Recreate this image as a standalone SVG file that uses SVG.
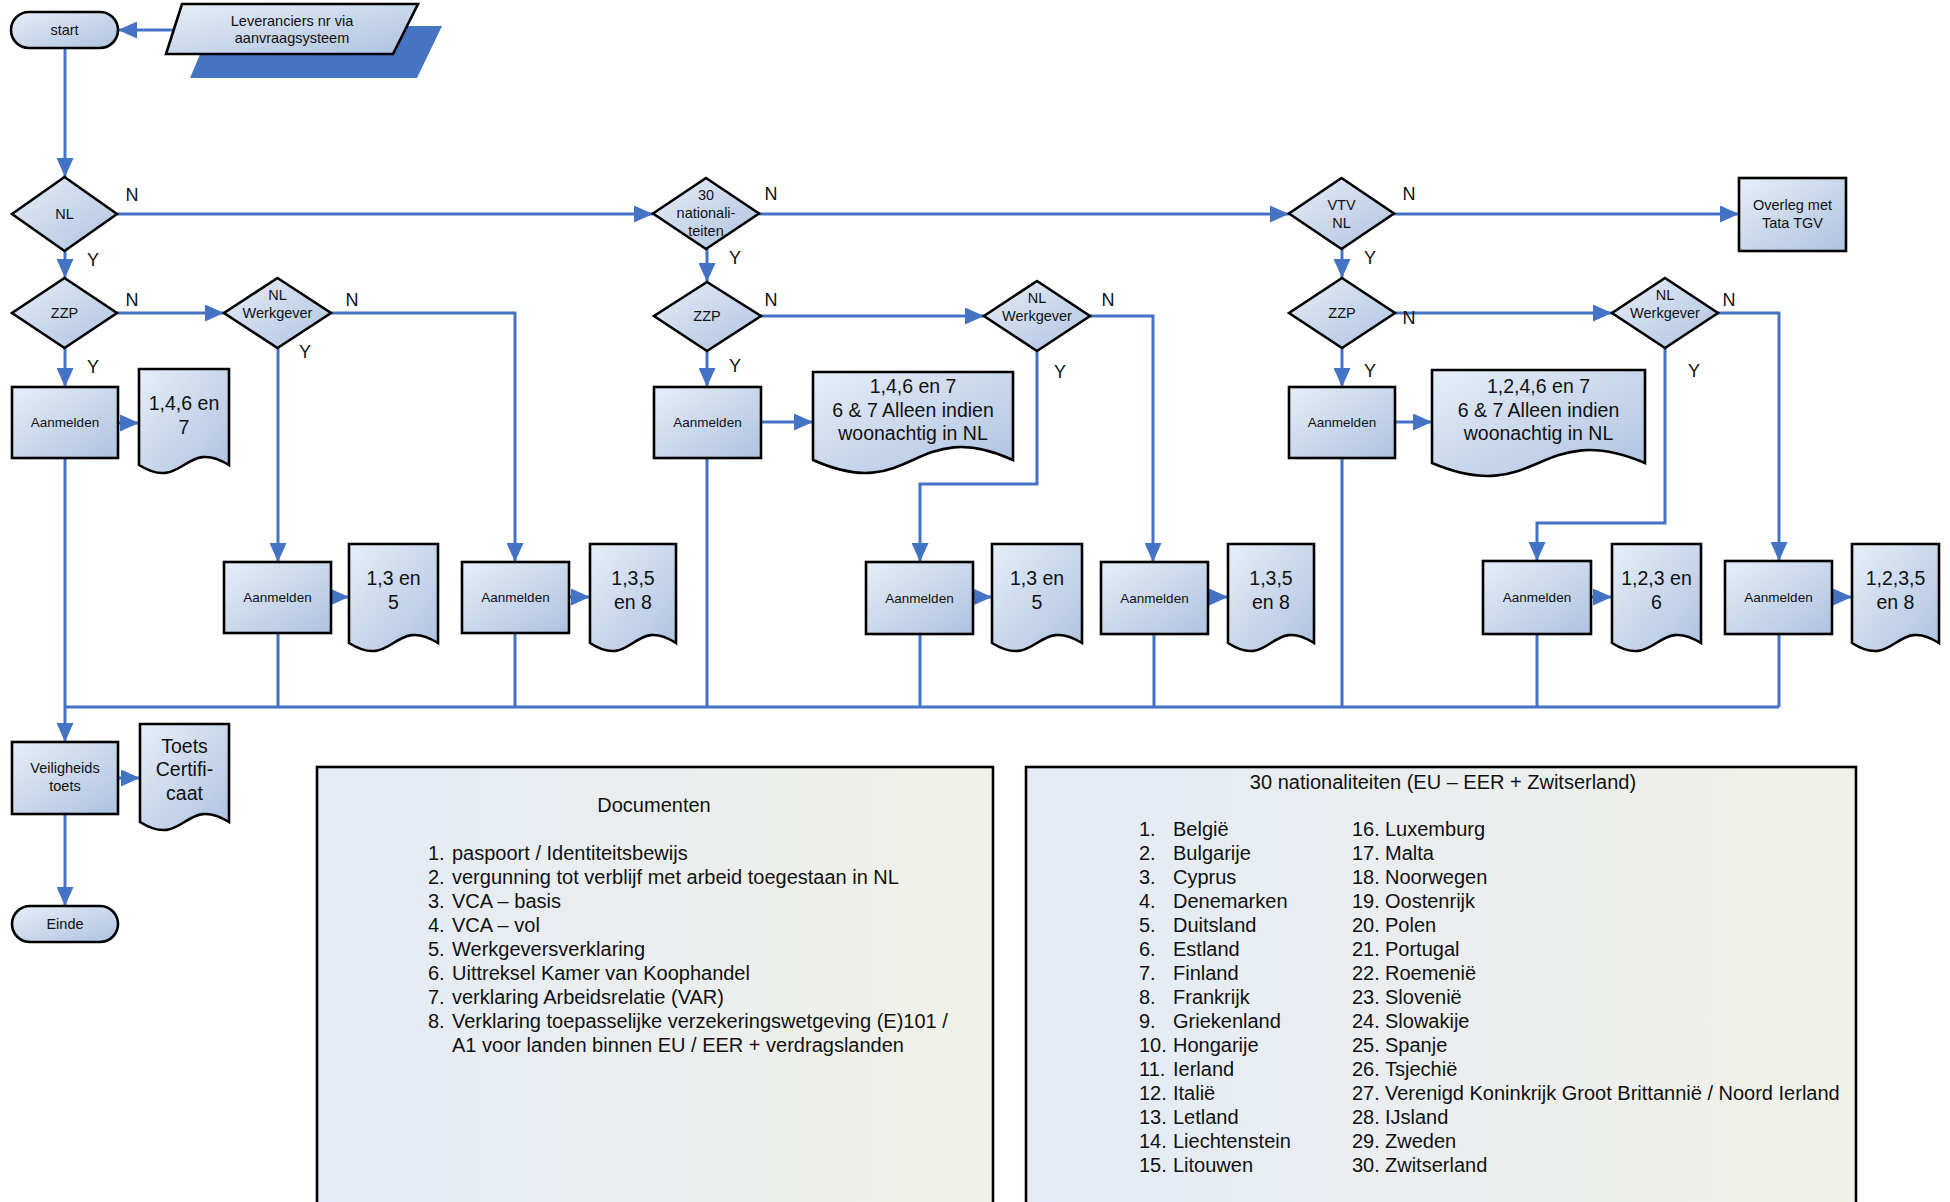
<svg xmlns="http://www.w3.org/2000/svg" width="1950" height="1202" viewBox="0 0 1950 1202">
<style>
text{font-family:"Liberation Sans",Arial,sans-serif;fill:#111;dominant-baseline:central}
.n{fill:url(#gn);stroke:#000;stroke-width:2.6}
.t{font-size:14.5px;text-anchor:middle}
.ta{font-size:13.5px;text-anchor:middle}
.td{font-size:19.5px;text-anchor:middle}
.yn{font-size:18px}
.c{fill:none;stroke:#4472c4;stroke-width:3}
.ar{marker-end:url(#ah)}
.box{fill:url(#gb);stroke:#000;stroke-width:2.6}
.l{font-size:20px}
</style>
<defs>
<linearGradient id="gn" x1="0" y1="0" x2="1" y2="1">
<stop offset="0" stop-color="#e7eef8"/><stop offset="1" stop-color="#adc2e0"/>
</linearGradient>
<linearGradient id="gb" x1="0" y1="0" x2="1" y2="0">
<stop offset="0" stop-color="#e4ebf6"/><stop offset="1" stop-color="#f1f1e8"/>
</linearGradient>
<marker id="ah" markerUnits="userSpaceOnUse" markerWidth="20" markerHeight="17" refX="19" refY="8.5" orient="auto">
<path d="M0,0 L19,8.5 L0,17 z" fill="#4472c4"/>
</marker>
</defs>

<g id="connectors">
<path class="c ar" d="M174,30 H118"/>
<path class="c ar" d="M65,48 V177"/>
<path class="c ar" d="M65,251 V278"/>
<path class="c ar" d="M65,348 V387"/>
<path class="c ar" d="M118,423 H139"/>
<path class="c ar" d="M117,214 H653"/>
<path class="c ar" d="M117,313 H224"/>
<path class="c ar" d="M278,348 V562"/>
<path class="c ar" d="M331,313 H515 V562"/>
<path class="c ar" d="M331,597 H349"/>
<path class="c ar" d="M569,597 H590"/>
<path class="c ar" d="M707,249 V282"/>
<path class="c ar" d="M707,351 V387"/>
<path class="c ar" d="M761,422 H813"/>
<path class="c ar" d="M761,316 H984"/>
<path class="c ar" d="M1037,351 V484 H920 V562"/>
<path class="c ar" d="M1090,316 H1153 V562"/>
<path class="c ar" d="M973,597 H992"/>
<path class="c ar" d="M1208,597 H1228"/>
<path class="c ar" d="M759,214 H1289"/>
<path class="c ar" d="M1394,214 H1739"/>
<path class="c ar" d="M1342,249 V278"/>
<path class="c ar" d="M1342,348 V387"/>
<path class="c ar" d="M1395,422 H1432"/>
<path class="c ar" d="M1395,313 H1612"/>
<path class="c ar" d="M1665,348 V523 H1537 V561"/>
<path class="c ar" d="M1718,313 H1779 V561"/>
<path class="c ar" d="M1591,597 H1612"/>
<path class="c ar" d="M1832,597 H1852"/>
<path class="c ar" d="M65,458 V742"/>
<path class="c" d="M65,707 H1779"/>
<path class="c" d="M278,633 V707 M515,633 V707 M707,458 V707 M920,634 V707 M1154,634 V707 M1342,458 V707 M1537,634 V707 M1779,634 V707"/>
<path class="c ar" d="M118,778 H140"/>
<path class="c ar" d="M65,814 V906"/>
</g>

<g id="labels">
<text class="yn" x="132" y="195" text-anchor="middle">N</text>
<text class="yn" x="93" y="260" text-anchor="middle">Y</text>
<text class="yn" x="132" y="300" text-anchor="middle">N</text>
<text class="yn" x="93" y="367" text-anchor="middle">Y</text>
<text class="yn" x="352" y="300" text-anchor="middle">N</text>
<text class="yn" x="305" y="352" text-anchor="middle">Y</text>
<text class="yn" x="771" y="194" text-anchor="middle">N</text>
<text class="yn" x="735" y="258" text-anchor="middle">Y</text>
<text class="yn" x="771" y="300" text-anchor="middle">N</text>
<text class="yn" x="735" y="366" text-anchor="middle">Y</text>
<text class="yn" x="1108" y="300" text-anchor="middle">N</text>
<text class="yn" x="1060" y="372" text-anchor="middle">Y</text>
<text class="yn" x="1409" y="194" text-anchor="middle">N</text>
<text class="yn" x="1370" y="258" text-anchor="middle">Y</text>
<text class="yn" x="1409" y="318" text-anchor="middle">N</text>
<text class="yn" x="1370" y="371" text-anchor="middle">Y</text>
<text class="yn" x="1729" y="300" text-anchor="middle">N</text>
<text class="yn" x="1694" y="371" text-anchor="middle">Y</text>
</g>

<g id="start"><rect class="n" x="11" y="12" width="107" height="36" rx="18"/><text class="t" x="64.5" y="30">start</text></g>
<g id="leveranciers">
<path d="M212,26 H442 L417,78 H190 Z" fill="#4674c2"/>
<path class="n" d="M182,4 H418 L393,54 H166 Z"/>
<text class="t" x="292" y="21">Leveranciers nr via</text>
<text class="t" x="292" y="38">aanvraagsysteem</text>
</g>

<g id="nl"><path class="n" d="M64.5,177 L117,214 L64.5,251 L12,214 Z"/><text class="t" x="64.5" y="214">NL</text></g>
<g id="zzp1"><path class="n" d="M64.5,278 L117,313 L64.5,348 L12,313 Z"/><text class="t" x="64.5" y="313">ZZP</text></g>
<g id="wg1"><path class="n" d="M277.5,278 L331,313 L277.5,348 L224,313 Z"/><text class="t" x="277.5" y="295">NL</text><text class="t" x="277.5" y="313">Werkgever</text></g>
<g id="a1"><rect class="n" x="12" y="387" width="106" height="71"/><text class="ta" x="65" y="422">Aanmelden</text></g>
<g id="d1"><path class="n" d="M139,369 H229 V465 C184,437 184,493 139,465 Z"/><text class="td" x="184" y="403">1,4,6 en</text><text class="td" x="184" y="427">7</text></g>
<g id="a2"><rect class="n" x="224" y="562" width="107" height="71"/><text class="ta" x="277.5" y="597.5">Aanmelden</text></g>
<g id="d2"><path class="n" d="M349,544 H438 V643 C393.5,615 393.5,671 349,643 Z"/><text class="td" x="393.5" y="578">1,3 en</text><text class="td" x="393.5" y="602">5</text></g>
<g id="a3"><rect class="n" x="462" y="562" width="107" height="71"/><text class="ta" x="515.5" y="597.5">Aanmelden</text></g>
<g id="d3"><path class="n" d="M590,544 H676 V643 C633,615 633,671 590,643 Z"/><text class="td" x="633" y="578">1,3,5</text><text class="td" x="633" y="602">en 8</text></g>

<g id="nat30"><path class="n" d="M706,178 L759,213.5 L706,249 L653,213.5 Z"/><text class="t" x="706" y="195">30</text><text class="t" x="706" y="213">nationali-</text><text class="t" x="706" y="231">teiten</text></g>
<g id="zzp2"><path class="n" d="M707,282 L761,316 L707,351 L654,316 Z"/><text class="t" x="707" y="316">ZZP</text></g>
<g id="wg2"><path class="n" d="M1037,281 L1090,316 L1037,351 L984,316 Z"/><text class="t" x="1037" y="298">NL</text><text class="t" x="1037" y="316">Werkgever</text></g>
<g id="a4"><rect class="n" x="654" y="387" width="107" height="71"/><text class="ta" x="707.5" y="422">Aanmelden</text></g>
<g id="d4"><path class="n" d="M813,372 H1013 V460 C913,415 913,505 813,460 Z"/><text class="td" x="913" y="386">1,4,6 en 7</text><text class="td" x="913" y="410">6 &amp; 7 Alleen indien</text><text class="td" x="913" y="433">woonachtig in NL</text></g>
<g id="a5"><rect class="n" x="866" y="562" width="107" height="72"/><text class="ta" x="919.5" y="598">Aanmelden</text></g>
<g id="d5"><path class="n" d="M992,544 H1082 V643 C1037,615 1037,671 992,643 Z"/><text class="td" x="1037" y="578">1,3 en</text><text class="td" x="1037" y="602">5</text></g>
<g id="a6"><rect class="n" x="1101" y="562" width="107" height="72"/><text class="ta" x="1154.5" y="598">Aanmelden</text></g>
<g id="d6"><path class="n" d="M1228,544 H1314 V643 C1271,615 1271,671 1228,643 Z"/><text class="td" x="1271" y="578">1,3,5</text><text class="td" x="1271" y="602">en 8</text></g>

<g id="vtv"><path class="n" d="M1341.5,178 L1394,213.5 L1341.5,249 L1289,213.5 Z"/><text class="t" x="1341.5" y="205">VTV</text><text class="t" x="1341.5" y="223">NL</text></g>
<g id="overleg"><rect class="n" x="1739" y="178" width="107" height="73"/><text class="t" x="1792.5" y="205">Overleg met</text><text class="t" x="1792.5" y="223">Tata TGV</text></g>
<g id="zzp3"><path class="n" d="M1342,278 L1395,313 L1342,348 L1289,313 Z"/><text class="t" x="1342" y="313">ZZP</text></g>
<g id="wg3"><path class="n" d="M1665,278 L1718,313 L1665,348 L1612,313 Z"/><text class="t" x="1665" y="295">NL</text><text class="t" x="1665" y="313">Werkgever</text></g>
<g id="a7"><rect class="n" x="1289" y="387" width="106" height="71"/><text class="ta" x="1342" y="422">Aanmelden</text></g>
<g id="d7"><path class="n" d="M1432,370 H1645 V463 C1538.5,418 1538.5,508 1432,463 Z"/><text class="td" x="1538.5" y="386">1,2,4,6 en 7</text><text class="td" x="1538.5" y="410">6 &amp; 7 Alleen indien</text><text class="td" x="1538.5" y="433">woonachtig in NL</text></g>
<g id="a8"><rect class="n" x="1483" y="561" width="108" height="73"/><text class="ta" x="1537" y="597.5">Aanmelden</text></g>
<g id="d8"><path class="n" d="M1612,544 H1701 V643 C1656.5,615 1656.5,671 1612,643 Z"/><text class="td" x="1656.5" y="578">1,2,3 en</text><text class="td" x="1656.5" y="602">6</text></g>
<g id="a9"><rect class="n" x="1725" y="561" width="107" height="73"/><text class="ta" x="1778.5" y="597.5">Aanmelden</text></g>
<g id="d9"><path class="n" d="M1852,544 H1939 V643 C1895.5,615 1895.5,671 1852,643 Z"/><text class="td" x="1895.5" y="578">1,2,3,5</text><text class="td" x="1895.5" y="602">en 8</text></g>

<g id="veiligheid"><rect class="n" x="12" y="742" width="106" height="72"/><text class="t" x="65" y="768">Veiligheids</text><text class="t" x="65" y="786">toets</text></g>
<g id="toets"><path class="n" d="M140,724 H229 V822 C184.5,794 184.5,850 140,822 Z"/><text class="td" x="184.5" y="746">Toets</text><text class="td" x="184.5" y="769">Certifi-</text><text class="td" x="184.5" y="793">caat</text></g>
<g id="einde"><rect class="n" x="12" y="906" width="106" height="36" rx="18"/><text class="t" x="65" y="924">Einde</text></g>

<g id="documenten">
<rect class="box" x="317" y="767" width="676" height="470"/>
<text class="l" x="654" y="805" text-anchor="middle">Documenten</text>
<text class="l" x="428" y="853">1.</text><text class="l" x="452" y="853">paspoort / Identiteitsbewijs</text>
<text class="l" x="428" y="877">2.</text><text class="l" x="452" y="877">vergunning tot verblijf met arbeid toegestaan in NL</text>
<text class="l" x="428" y="901">3.</text><text class="l" x="452" y="901">VCA – basis</text>
<text class="l" x="428" y="925">4.</text><text class="l" x="452" y="925">VCA – vol</text>
<text class="l" x="428" y="949">5.</text><text class="l" x="452" y="949">Werkgeversverklaring</text>
<text class="l" x="428" y="973">6.</text><text class="l" x="452" y="973">Uittreksel Kamer van Koophandel</text>
<text class="l" x="428" y="997">7.</text><text class="l" x="452" y="997">verklaring Arbeidsrelatie (VAR)</text>
<text class="l" x="428" y="1021">8.</text><text class="l" x="452" y="1021">Verklaring toepasselijke verzekeringswetgeving (E)101 /</text>
<text class="l" x="452" y="1045">A1 voor landen binnen EU / EER + verdragslanden</text>
</g>

<g id="nationaliteiten">
<rect class="box" x="1026" y="767" width="830" height="470"/>
<text class="l" x="1443" y="782" text-anchor="middle">30 nationaliteiten (EU – EER + Zwitserland)</text>
<text class="l" x="1139" y="829">1.</text><text class="l" x="1173" y="829">België</text>
<text class="l" x="1139" y="853">2.</text><text class="l" x="1173" y="853">Bulgarije</text>
<text class="l" x="1139" y="877">3.</text><text class="l" x="1173" y="877">Cyprus</text>
<text class="l" x="1139" y="901">4.</text><text class="l" x="1173" y="901">Denemarken</text>
<text class="l" x="1139" y="925">5.</text><text class="l" x="1173" y="925">Duitsland</text>
<text class="l" x="1139" y="949">6.</text><text class="l" x="1173" y="949">Estland</text>
<text class="l" x="1139" y="973">7.</text><text class="l" x="1173" y="973">Finland</text>
<text class="l" x="1139" y="997">8.</text><text class="l" x="1173" y="997">Frankrijk</text>
<text class="l" x="1139" y="1021">9.</text><text class="l" x="1173" y="1021">Griekenland</text>
<text class="l" x="1139" y="1045">10.</text><text class="l" x="1173" y="1045">Hongarije</text>
<text class="l" x="1139" y="1069">11.</text><text class="l" x="1173" y="1069">Ierland</text>
<text class="l" x="1139" y="1093">12.</text><text class="l" x="1173" y="1093">Italië</text>
<text class="l" x="1139" y="1117">13.</text><text class="l" x="1173" y="1117">Letland</text>
<text class="l" x="1139" y="1141">14.</text><text class="l" x="1173" y="1141">Liechtenstein</text>
<text class="l" x="1139" y="1165">15.</text><text class="l" x="1173" y="1165">Litouwen</text>
<text class="l" x="1352" y="829">16.</text><text class="l" x="1385" y="829">Luxemburg</text>
<text class="l" x="1352" y="853">17.</text><text class="l" x="1385" y="853">Malta</text>
<text class="l" x="1352" y="877">18.</text><text class="l" x="1385" y="877">Noorwegen</text>
<text class="l" x="1352" y="901">19.</text><text class="l" x="1385" y="901">Oostenrijk</text>
<text class="l" x="1352" y="925">20.</text><text class="l" x="1385" y="925">Polen</text>
<text class="l" x="1352" y="949">21.</text><text class="l" x="1385" y="949">Portugal</text>
<text class="l" x="1352" y="973">22.</text><text class="l" x="1385" y="973">Roemenië</text>
<text class="l" x="1352" y="997">23.</text><text class="l" x="1385" y="997">Slovenië</text>
<text class="l" x="1352" y="1021">24.</text><text class="l" x="1385" y="1021">Slowakije</text>
<text class="l" x="1352" y="1045">25.</text><text class="l" x="1385" y="1045">Spanje</text>
<text class="l" x="1352" y="1069">26.</text><text class="l" x="1385" y="1069">Tsjechië</text>
<text class="l" x="1352" y="1093">27.</text><text class="l" x="1385" y="1093">Verenigd Koninkrijk Groot Brittannië / Noord Ierland</text>
<text class="l" x="1352" y="1117">28.</text><text class="l" x="1385" y="1117">IJsland</text>
<text class="l" x="1352" y="1141">29.</text><text class="l" x="1385" y="1141">Zweden</text>
<text class="l" x="1352" y="1165">30.</text><text class="l" x="1385" y="1165">Zwitserland</text>
</g>
</svg>
